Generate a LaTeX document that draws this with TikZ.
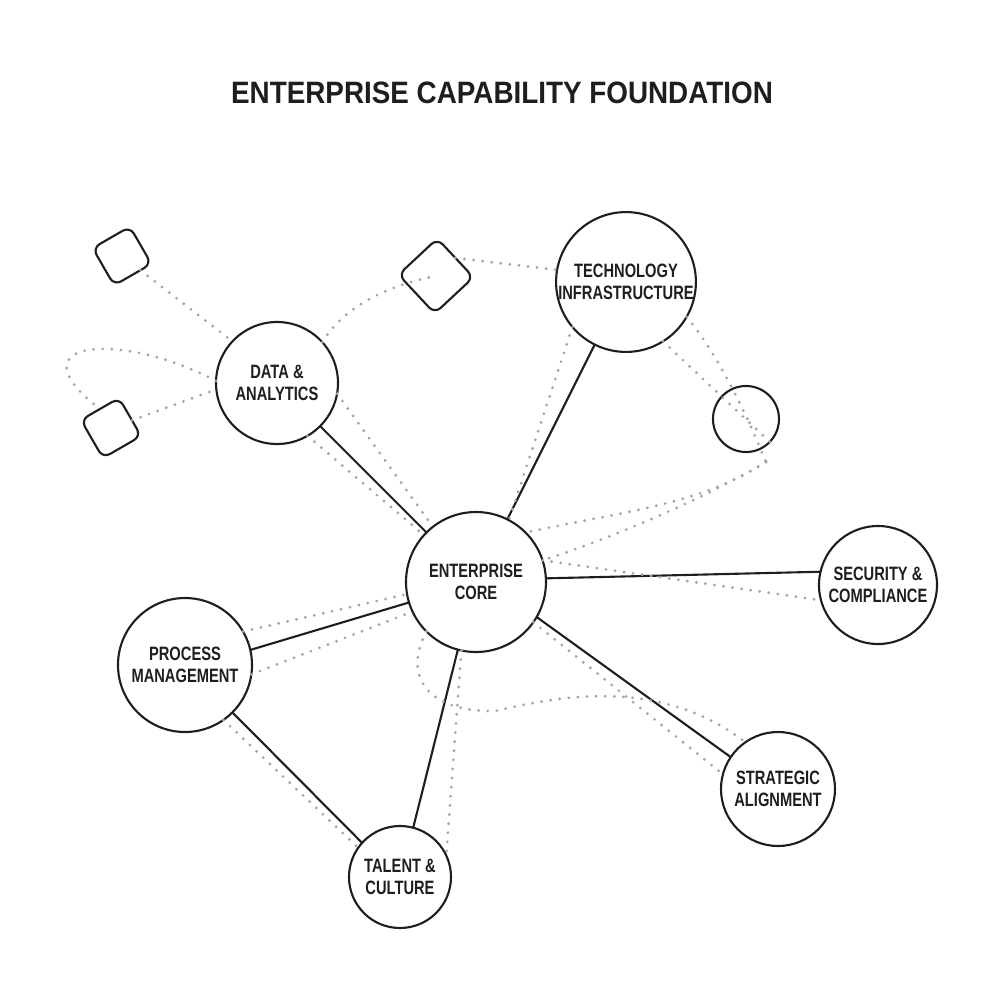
\documentclass[tikz,border=0pt]{standalone}
\usepackage{fontspec}
\usepackage{tikz}
\usetikzlibrary{calc}
\newfontfamily\labelfont[FakeStretch=0.76]{Liberation Sans}
\newfontfamily\titlefont[FakeStretch=0.9]{Liberation Sans}
\definecolor{inkDark}{HTML}{1E1E1E}
\definecolor{dotGray}{HTML}{A6A6A6}

\begin{document}
\begin{tikzpicture}[x=0.1mm,y=-0.1mm,
  bubble/.style={circle,draw=inkDark,line width=0.6pt,inner sep=0pt,outer sep=0pt,align=center,text=inkDark,font=\labelfont\bfseries\fontsize{5.5}{6.4}\selectfont},
  tile/.style={rectangle,draw=inkDark,line width=0.6pt,rounded corners=0.8mm,inner sep=0pt,outer sep=0pt},
  link/.style={inkDark,line width=0.6pt},
  trail/.style={dotGray,line width=0.9pt,line cap=round,dash pattern=on 0pt off 2.6pt}]
\useasboundingbox (0,0) rectangle (1000,1000);
\node[text=inkDark,font=\titlefont\bfseries\fontsize{8.8}{10}\selectfont] (title) at (502,93) {ENTERPRISE CAPABILITY FOUNDATION};
\node[bubble,minimum size=14mm] (core) at (476,582) {ENTERPRISE\\CORE};
\node[bubble,minimum size=12.2mm] (data) at (277,383) {DATA \&\\ANALYTICS};
\node[bubble,minimum size=13.8mm] (tech) at (626,282) {TECHNOLOGY\\INFRASTRUCTURE};
\node[bubble,minimum size=6.6mm] (orb) at (746,419) {};
\node[bubble,minimum size=11.8mm] (security) at (878,585) {SECURITY \&\\COMPLIANCE};
\node[bubble,minimum size=13.4mm] (process) at (185,665) {PROCESS\\MANAGEMENT};
\node[bubble,minimum size=10.2mm] (talent) at (400,877) {TALENT \&\\CULTURE};
\node[bubble,minimum size=11.4mm] (strategy) at (778,789) {STRATEGIC\\ALIGNMENT};
\foreach \n/\p/\a/\s in {tileA/{122,256}/30/4.3mm,tileB/{436,276}/43/5.3mm,tileC/{111,428}/30/4.4mm}
  \node[tile,rotate=\a,minimum size=\s] (\n) at (\p) {};
\coordinate (orbTail) at (770,442);
\coordinate (orbLow) at (766,462);

\draw[link] (core) -- (data);
\draw[link] (core) -- (tech);
\draw[link] (core.3) -- (security.167);
\draw[link] (core.197) -- (process.13);
\draw[link] (core.255) -- (talent.75);
\draw[link] (core.330) -- (strategy.146);
\draw[link] (process.315) -- (talent.138);

\draw[trail] (tileA) -- (data.137);
\draw[trail] (tileC) -- (data.186);
\draw[trail] (data.178) .. controls (120,330) and (10,340) .. (tileC.north);
\draw[trail] (data.42) .. controls (345,305) and (390,285) .. (tileB.center);
\draw[trail] (tileB.east) -- (tech.170);
\draw[trail] (tech.220) -- (core.62);
\draw[trail] (tech.302) -- (orbTail);
\draw[trail] (tech.330) .. controls (715,350) and (745,410) .. (orbLow);
\draw[trail] (orbLow) .. controls (700,500) and (620,535) .. (core.18);
\draw[trail] (orbLow) .. controls (700,505) and (620,512) .. (core.45);
\draw[trail] (core.18) -- (security.195);
\draw[trail] (core.225) .. controls (405,670) and (420,712) .. (495,711) .. controls (545,700) and (655,672) .. (strategy.125);
\draw[trail] (core.325) -- (strategy.165);
\draw[trail] (core.258) -- (talent.25);
\draw[trail] (process.30) -- (core.190);
\draw[trail] (process.352) -- (core.205);
\draw[trail] (process.305) -- (talent.145);
\draw[trail] (data.350) -- (core.128);
\draw[trail] (data.300) -- (core.138);
\end{tikzpicture}
\end{document}
